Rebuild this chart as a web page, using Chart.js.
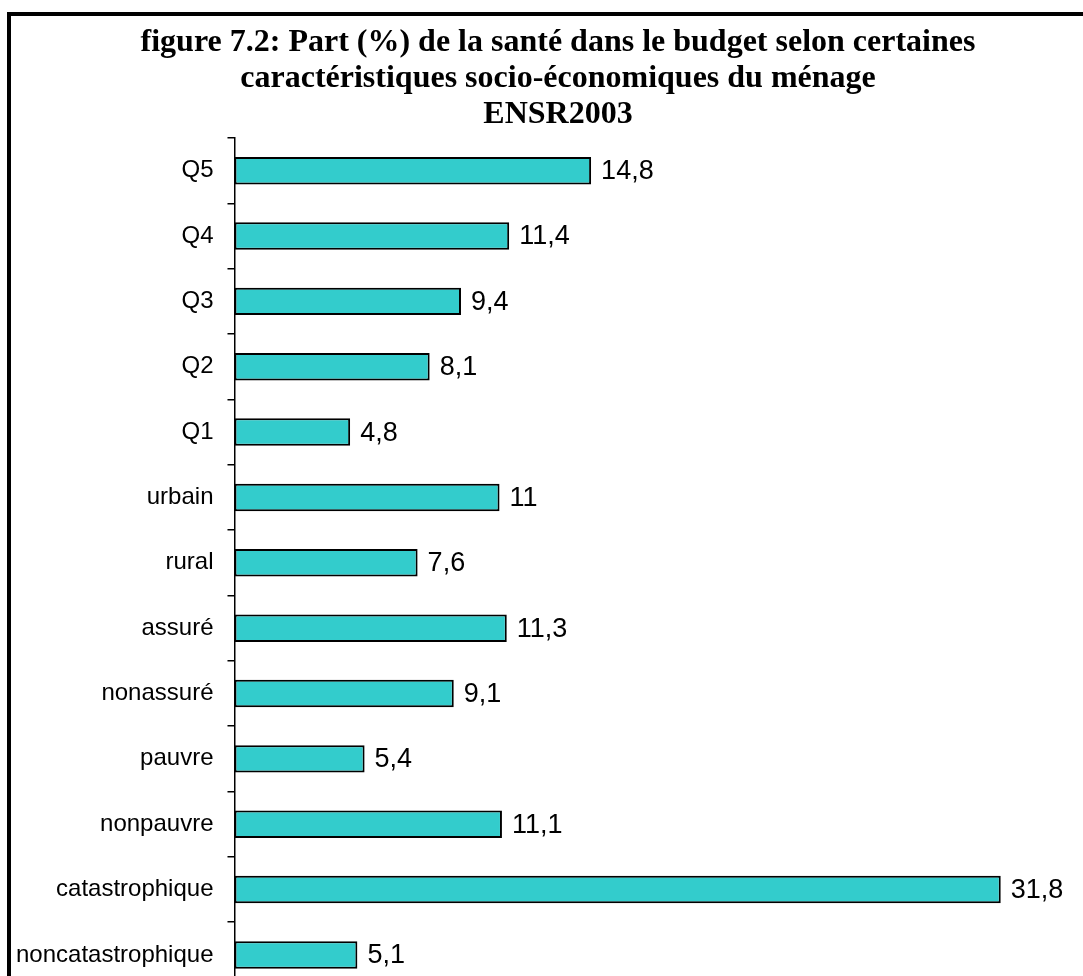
<!DOCTYPE html>
<html>
<head>
<meta charset="utf-8">
<script src="https://cdn.jsdelivr.net/npm/chart.js@4"></script>
<style>
    html, body { margin: 0; padding: 0; background: #fff; overflow: hidden; }
    #frame { position: absolute; left: 7px; top: 12px; width: 1200px; height: 1100px;
             border-left: 4px solid #000; border-top: 4px solid #000; }
    #chart { position: absolute; left: 0; top: 16px; }
</style>
</head>
<body>
<div id="frame"></div>
<canvas id="chart" width="1114" height="1000"></canvas>
<script>
const categories = ['Q5', 'Q4', 'Q3', 'Q2', 'Q1', 'urbain', 'rural', 'assuré', 'nonassuré',
    'pauvre', 'nonpauvre', 'catastrophique', 'noncatastrophique'];
const shares = [14.8, 11.4, 9.4, 8.1, 4.8, 11, 7.6, 11.3, 9.1, 5.4, 11.1, 31.8, 5.1];
const titleLines = [
    'figure 7.2: Part (%) de la santé dans le budget selon certaines',
    'caractéristiques socio-économiques du ménage',
    'ENSR2003'
];

// draws the value next to each bar, with a comma as decimal mark
const valueLabels = {
    id: 'valueLabels',
    afterDatasetsDraw(chart) {
        const ctx = chart.ctx;
        const meta = chart.getDatasetMeta(0);
        ctx.save();
        ctx.font = '27px "Liberation Sans", Arial, sans-serif';
        ctx.fillStyle = '#000';
        ctx.textBaseline = 'middle';
        ctx.textAlign = 'left';
        meta.data.forEach((bar, i) => {
            const txt = String(shares[i]).replace('.', ',');
            ctx.fillText(txt, bar.x + 10, bar.y + 1);
        });
        ctx.restore();
    }
};

new Chart(document.getElementById('chart'), {
    type: 'bar',
    data: {
        labels: categories,
        datasets: [{
            data: shares,
            backgroundColor: '#33CCCC',
            borderColor: '#000',
            borderWidth: 2,
            borderSkipped: false,
            categoryPercentage: 1,
            barPercentage: 0.42
        }]
    },
    options: {
        indexAxis: 'y',
        responsive: false,
        animation: false,
        layout: { padding: { left: 2, right: 0, top: 0, bottom: 4 } },
        plugins: {
            legend: { display: false },
            tooltip: { enabled: false },
            title: {
                display: true,
                text: titleLines,
                color: '#000',
                font: { family: '"Liberation Serif", "Times New Roman", serif', size: 32, weight: 'bold', lineHeight: 1.125 },
                padding: { top: 9, bottom: 5 }
            }
        },
        scales: {
            x: {
                display: false,
                min: 0,
                max: 36.5
            },
            y: {
                border: { display: true, color: '#000', width: 1.5 },
                grid: {
                    drawOnChartArea: false,
                    color: '#000',
                    lineWidth: 1.5,
                    tickLength: 7,
                    offset: true
                },
                ticks: {
                    color: '#000',
                    padding: 14,
                    font: { family: '"Liberation Sans", Arial, sans-serif', size: 24 }
                }
            }
        }
    },
    plugins: [valueLabels]
});
</script>
</body>
</html>
